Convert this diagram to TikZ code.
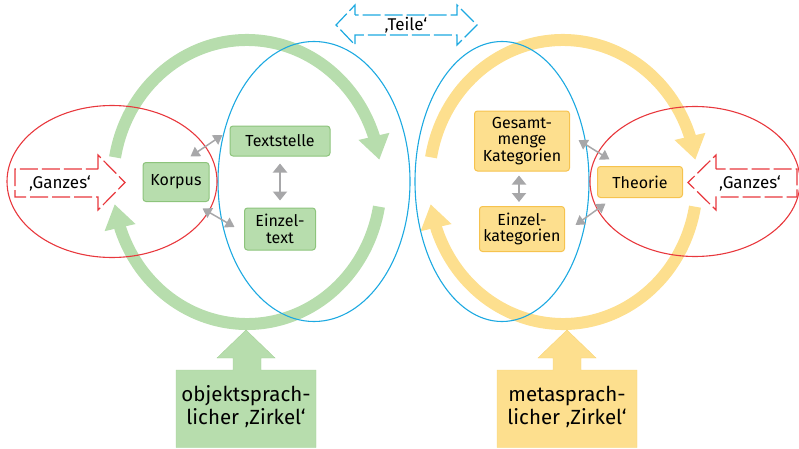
\documentclass[tikz,border=0pt]{standalone}
\usepackage{fontspec}
\setmainfont{Fira Sans}
\usetikzlibrary{arrows.meta,bending}
\definecolor{gruenfill}{HTML}{B7DDAD}
\definecolor{gruenrand}{HTML}{8DC47C}
\definecolor{gelbfill}{HTML}{FDDF8E}
\definecolor{gelbrand}{HTML}{F6C34F}
\definecolor{blau}{HTML}{1DA9E1}
\definecolor{rot}{HTML}{E8383D}
\definecolor{grau}{HTML}{A7A7A9}

\begin{document}
\begin{tikzpicture}[x=1pt,y=1pt]
  \tikzstyle{kasten} = [rounded corners=3pt,line width=1pt,align=center,inner sep=0pt,font=\fontsize{16}{16.5}\selectfont]
  \tikzstyle{gruen} = [kasten,draw=gruenrand,fill=gruenfill]
  \tikzstyle{gelb} = [kasten,draw=gelbrand,fill=gelbfill]
  \tikzstyle{bogen} = [line width=12pt,-{Triangle[width=30pt 0 0,length=24pt 0 0]}]
  \tikzstyle{pfeil} = [grau,line width=1.5pt,{Triangle[width=11pt 0 0,length=9pt 0 0]}-{Triangle[width=11pt 0 0,length=9pt 0 0]}]
  \tikzstyle{senkrecht} = [pfeil,line width=2pt,{Triangle[width=14pt 0 0,length=9pt 0 0]}-{Triangle[width=14pt 0 0,length=9pt 0 0]}]
  \tikzstyle{strich} = [line width=1.2pt,dash pattern=on 18pt off 4pt]
  \tikzstyle{zirkel} = [font=\fontsize{20.5}{23}\selectfont,align=center]
  \tikzstyle{zitat} = [font=\fontsize{17}{18}\selectfont]
  \useasboundingbox (0,0) rectangle (799,448);

  \foreach \x/\farbe in {247/gruenfill,563/gelbfill}{
    \draw[bogen,\farbe] (\x,266) ++(170:134pt and 142pt) arc[start angle=170,end angle=9,x radius=134pt,y radius=142pt];
    \draw[bogen,\farbe] (\x,266) ++(-10:134pt and 142pt) arc[start angle=-10,end angle=-171,x radius=134pt,y radius=142pt];
  }

  \draw[blau,line width=1.1pt] (314,266.5) ellipse [x radius=96pt,y radius=140pt];
  \draw[blau,line width=1.1pt] (502,266.5) ellipse [x radius=87pt,y radius=140pt];
  \draw[rot,line width=1.1pt] (112,266.5) ellipse [x radius=105pt,y radius=76pt];
  \draw[rot,line width=1.1pt] (695,266.5) ellipse [x radius=105pt,y radius=75pt];

  \path[strich,draw=rot,fill=white] (98,279) -- (98,293) -- (125,265.5) -- (98,238) -- (98,251) -- (15,251) -- (15,279) -- cycle;
  \path[strich,draw=rot,fill=white] (716,279) -- (716,293) -- (688,265.5) -- (716,238) -- (716,251) -- (797,251) -- (797,279) -- cycle;
  \path[strich,draw=blau,fill=white] (355,433) -- (355,443) -- (336,423) -- (355,403) -- (355,413) -- (457,413) -- (457,403) -- (477,423) -- (457,443) -- (457,433) -- cycle;
  \draw (60,265) node(ganzeslinks)[zitat]{‚Ganzes‘};
  \draw (750,265) node(ganzesrechts)[zitat]{‚Ganzes‘};
  \draw (406,423) node(teile)[zitat]{‚Teile‘};

  \draw (176,266) node(korpus)[gruen,minimum width=66pt,minimum height=39pt]{Korpus};
  \draw (280,307) node(textstelle)[gruen,minimum width=100pt,minimum height=30pt]{Textstelle};
  \draw (280,219) node(einzeltext)[gruen,minimum width=71pt,minimum height=42pt]{Einzel-\\text};
  \draw (522,307) node(gesamt)[gelb,minimum width=95pt,minimum height=60pt]{Gesamt-\\menge\\Kategorien};
  \draw (522,219) node(einzelkat)[gelb,minimum width=85pt,minimum height=45pt]{Einzel-\\kategorien};
  \draw (640,266) node(theorie)[gelb,minimum width=85pt,minimum height=31pt]{Theorie};

  \draw[pfeil] ([shift={(-19,5.5)}]korpus.north east) -- ([shift={(-7,6)}]textstelle.west);
  \draw[pfeil] ([shift={(-7,-6.5)}]korpus.south east) -- ([shift={(-9.5,2)}]einzeltext.west);
  \draw[senkrecht,shorten <=7pt,shorten >=7pt] (textstelle) -- (einzeltext);
  \draw[pfeil] ([shift={(8.5,1)}]gesamt.east) -- ([shift={(12.5,6.5)}]theorie.north west);
  \draw[pfeil] ([shift={(10.5,4)}]einzelkat.east) -- ([shift={(8.5,-5.5)}]theorie.south west);
  \draw[senkrecht,shorten <=4pt,shorten >=4pt] ([xshift=-3pt]gesamt.south) -- ([xshift=-3pt]einzelkat.north);

  \path[draw=gruenrand!40!gruenfill,fill=gruenfill] (176,0.5) -- (176,78) -- (233,78) -- (233,90) -- (217,90) -- (246,118) -- (275,90) -- (261,90) -- (261,78) -- (316,78) -- (316,0.5) -- cycle;
  \path[draw=gelbrand!40!gelbfill,fill=gelbfill] (497,0.5) -- (497,78) -- (553,78) -- (553,90) -- (538,90) -- (567,118) -- (596,90) -- (581,90) -- (581,78) -- (637,78) -- (637,0.5) -- cycle;
  \draw (246,41) node(objekt)[zirkel]{objektsprach-\\licher ‚Zirkel‘};
  \draw (567,41) node(meta)[zirkel]{metasprach-\\licher ‚Zirkel‘};
\end{tikzpicture}
\end{document}
